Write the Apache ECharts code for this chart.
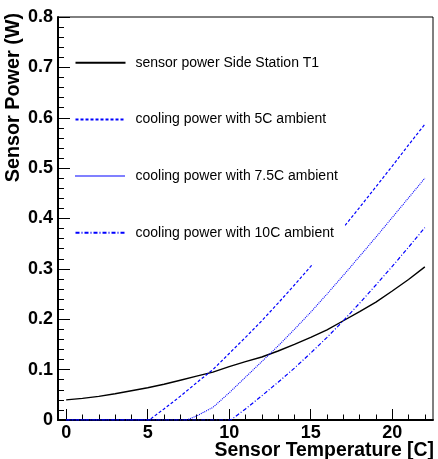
<!DOCTYPE html>
<html>
<head>
<meta charset="utf-8">
<script src="https://cdn.jsdelivr.net/npm/echarts@6/dist/echarts.min.js"></script>
<style>
html,body{margin:0;padding:0;background:#fff;}
#chart{width:438px;height:459px;}
</style>
</head>
<body>
<div id="chart"></div>
<script>
// values
var xMajor=[0,5,10,15,20];
var xMinor=[1,2,3,4,6,7,8,9,11,12,13,14,16,17,18,19,21,22];

var temps=[0,1,2,3,4,5,6,7,8,9,10,11,12,13,14,15,16,17,18,19,20,21,22];
var sensorPower=[0.040,0.043,0.047,0.052,0.058,0.064,0.071,0.079,0.087,0.095,0.106,0.116,0.125,0.137,0.150,0.164,0.179,0.197,0.215,0.234,0.256,0.279,0.304];

var cool5X=[0,5.1,6,7,8,9,10,11,12,13,14,15,16,17,18,19,20,21,22];
var cool5=[0,0,0.022,0.047,0.074,0.100,0.132,0.164,0.197,0.232,0.268,0.305,0.343,0.382,0.422,0.463,0.504,0.546,0.587];

var cool75X=[0,7.4,8,9,10,11,12,13,14,15,16,17,18,19,20,21,22];
var cool75=[0,0,0.008,0.025,0.054,0.085,0.116,0.147,0.180,0.214,0.250,0.287,0.325,0.363,0.402,0.441,0.480];

var cool10X=[0,10.1,11,12,13,14,15,16,17,18,19,20,21,22];
var cool10=[0,0,0.022,0.048,0.075,0.103,0.133,0.164,0.197,0.232,0.268,0.305,0.343,0.382];

var names=['sensor power Side Station T1','cooling power with 5C ambient','cooling power with 7.5C ambient','cooling power with 10C ambient'];

function pairs(xs,ys){
	var out=[];
	for(var i=0;i<xs.length;i++){
		out.push([xs[i],ys[i]]);
	}
	return out;
}

var font='"Liberation Sans", Arial, Helvetica, sans-serif';
var chart=echarts.init(document.getElementById('chart'));

var option={
	animation:false,
	backgroundColor:'#fff',
	grid:{
		left:58,top:17,right:5,bottom:39,
		show:true,borderColor:'#000',borderWidth:1
	},
	// white legend box hides the curve behind it, like the original
	legend:{
		orient:'vertical',
		left:72,
		top:40,
		padding:[15.7,7,24.3,2.5],
		backgroundColor:'#fff',
		borderWidth:0,
		itemWidth:50,
		itemHeight:14,
		itemGap:42.7,
		data:names,
		itemStyle:{opacity:0},
		textStyle:{fontFamily:font,fontSize:14,color:'#000',padding:[0,0,0,5]}
	},
	xAxis:[
		{
			type:'value',min:-0.5,max:22.5,position:'bottom',
			splitLine:{show:false},
			axisLine:{lineStyle:{color:'#000',width:2}},
			axisTick:{inside:true,length:11,customValues:xMajor,lineStyle:{color:'#000',width:1}},
			axisLabel:{customValues:xMajor,margin:4,color:'#000',fontFamily:font,fontWeight:'bold',fontSize:18}
		},
		{
			type:'value',min:-0.5,max:22.5,position:'bottom',
			splitLine:{show:false},
			axisLine:{show:false},
			axisTick:{inside:true,length:5.5,customValues:xMinor,lineStyle:{color:'#000',width:1}},
			axisLabel:{show:false}
		}
	],
	yAxis:{
		type:'value',min:0,max:0.8,interval:0.1,
		splitLine:{show:false},
		axisLine:{show:true,onZero:false,lineStyle:{color:'#000',width:2}},
		axisTick:{show:true,inside:true,length:12,lineStyle:{color:'#000',width:1}},
		minorTick:{show:true,splitNumber:5,length:6,lineStyle:{color:'#000',width:1}},
		axisLabel:{margin:5,color:'#000',fontFamily:font,fontWeight:'bold',fontSize:18}
	},
	graphic:[
		{
			type:'text',z:5,
			x:14,y:13,rotation:Math.PI/2,
			style:{text:'Sensor Power (W)',fontFamily:font,fontWeight:'bold',fontSize:19.8,fill:'#000',align:'right',verticalAlign:'middle'}
		},
		{
			type:'text',z:5,
			x:434,y:451,
			style:{text:'Sensor Temperature [C]',fontFamily:font,fontWeight:'bold',fontSize:19.4,fill:'#000',align:'right',verticalAlign:'middle'}
		}
	],
	series:[
		{
			name:names[0],type:'line',symbol:'none',
			data:pairs(temps,sensorPower),
			lineStyle:{color:'#000',width:1.4,type:'solid'},
			itemStyle:{color:'#000'}
		},
		{
			name:names[1],type:'line',symbol:'none',
			data:pairs(cool5X,cool5),
			lineStyle:{color:'#0000ff',width:1.2,type:[3,2]},
			itemStyle:{color:'#0000ff'}
		},
		{
			name:names[2],type:'line',symbol:'none',
			data:pairs(cool75X,cool75),
			lineStyle:{color:'#0000ff',width:1.1,type:[1,1]},
			itemStyle:{color:'#0000ff'}
		},
		{
			name:names[3],type:'line',symbol:'none',
			data:pairs(cool10X,cool10),
			lineStyle:{color:'#0000ff',width:1.2,type:[4,2,1,2]},
			itemStyle:{color:'#0000ff'}
		}
	]
};
chart.setOption(option);
</script>
</body>
</html>
